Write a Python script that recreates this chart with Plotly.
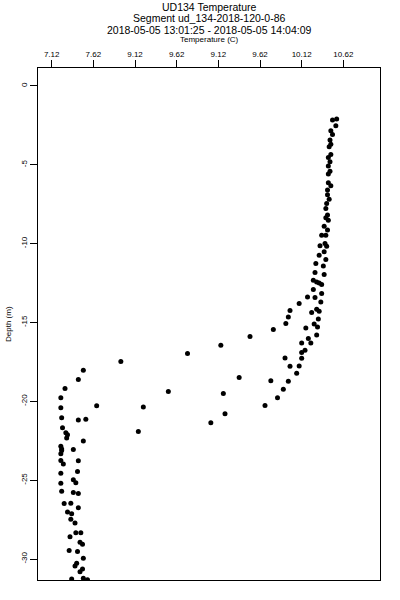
import plotly.graph_objects as go

temperature = [
    10.54, 10.49, 10.53, 10.47, 10.49, 10.46, 10.47, 10.45, 10.47, 10.44,
    10.46, 10.44, 10.46, 10.44, 10.44, 10.47, 10.43, 10.43, 10.45, 10.42,
    10.41, 10.43, 10.41, 10.44, 10.39, 10.43, 10.36, 10.41, 10.40, 10.34,
    10.42, 10.39, 10.33, 10.41, 10.29, 10.38, 10.28, 10.39, 10.26, 10.30,
    10.33, 10.36, 10.26, 10.19, 10.28, 10.36,
    10.09, 10.35, 9.98, 10.24, 10.30, 10.33, 9.96, 10.32, 9.93, 10.27,
    10.31, 10.17, 9.78, 9.50, 10.30, 9.15, 10.20, 10.12, 10.23, 10.16,
    10.12, 9.92, 10.12, 9.98, 10.09, 10.06, 9.37, 9.75, 9.96, 9.18,
    9.90, 9.83, 9.68, 9.20,
    8.75, 7.95, 7.50, 7.44, 7.28, 7.23, 8.52, 7.23, 7.66, 8.22,
    7.24, 7.44, 7.53, 9.03, 7.25, 8.16, 7.29, 7.31, 7.30, 7.50,
    7.23, 7.38, 7.24,
    7.24, 7.23, 7.23, 7.26, 7.44, 7.23, 7.43, 7.38, 7.41, 7.23,
    7.24, 7.38, 7.44, 7.27, 7.35, 7.44, 7.31, 7.36, 7.35, 7.40,
    7.41, 7.47, 7.34, 7.46, 7.49, 7.33, 7.43, 7.50, 7.42, 7.40,
    7.49, 7.46, 7.36, 7.50, 7.55,
]
depth = [
    -2.10, -2.16, -2.52, -2.84, -3.07, -3.43, -3.70, -3.85, -4.34, -4.53,
    -4.81, -5.08, -5.40, -5.59, -6.14, -6.33, -6.60, -6.90, -7.19, -7.45,
    -7.77, -8.19, -8.36, -8.51, -8.89, -9.14, -9.46, -9.46, -9.99, -10.14,
    -10.16, -10.52, -10.73, -11.00, -11.26, -11.41, -11.83, -11.96, -12.32, -12.43,
    -12.49, -12.59, -12.91, -13.38, -13.42, -13.16,
    -13.80, -13.70, -14.24, -14.37, -14.16, -14.29, -14.65, -14.78, -15.07, -15.09,
    -15.28, -15.35, -15.45, -15.88, -15.79, -16.45, -16.02, -16.30, -16.30, -16.76,
    -16.91, -17.25, -17.27, -17.78, -17.76, -18.22, -18.48, -18.69, -18.73, -19.51,
    -19.24, -19.77, -20.26, -20.78,
    -16.97, -17.48, -18.03, -18.61, -19.18, -19.77, -19.37, -20.40, -20.28, -20.36,
    -21.04, -21.19, -21.13, -21.36, -21.67, -21.91, -21.99, -22.12, -22.33, -22.52,
    -22.84, -23.05, -23.03,
    -23.11, -23.32, -23.75, -23.98, -23.77, -24.56, -24.45, -24.97, -25.17, -25.19,
    -25.70, -25.78, -25.84, -26.48, -26.46, -26.75, -27.01, -27.13, -27.48, -27.71,
    -28.34, -28.34, -28.58, -28.94, -29.06, -29.46, -29.53, -29.95, -30.27, -30.44,
    -30.63, -30.80, -31.26, -31.22, -31.32,
]

x_tickvals = [7.12, 7.62, 8.12, 8.62, 9.12, 9.62, 10.12, 10.62]
x_ticktext = ["7.12", "7.62", "9.12", "9.62", "9.12", "9.62", "10.12", "10.62"]
y_tickvals = [0, -5, -10, -15, -20, -25, -30]
y_ticktext = ["0", "-5", "-10", "-15", "-20", "-25", "-30"]

title_lines = [
    "UD134 Temperature",
    "Segment ud_134-2018-120-0-86",
    "2018-05-05 13:01:25 - 2018-05-05 14:04:09",
]

FONT = "Liberation Sans, Arial, sans-serif"

fig = go.Figure()
fig.add_trace(go.Scatter(
    x=temperature, y=depth, mode="markers",
    marker=dict(color="black", size=5, line=dict(width=0)),
    showlegend=False, hoverinfo="x+y",
))

L, R, T, B = 38, 20, 68, 20
H = 600
plot_h = H - T - B

annotations = []
for line, ypix in zip(title_lines, [7, 18, 30]):
    annotations.append(dict(
        text=line, x=0.5, xref="paper", y=(H - B - ypix) / plot_h, yref="paper",
        xanchor="center", yanchor="middle", showarrow=False,
        font=dict(family=FONT, size=10.5, color="black"),
    ))
annotations.append(dict(
    text="Temperature (C)", x=0.5, xref="paper", y=(H - B - 39) / plot_h, yref="paper",
    xanchor="center", yanchor="middle", showarrow=False,
    font=dict(family=FONT, size=8, color="black"),
))
annotations.append(dict(
    text="Depth (m)", x=-30 / 342, xref="paper", y=0.5, yref="paper",
    xanchor="center", yanchor="middle", showarrow=False, textangle=-90,
    font=dict(family=FONT, size=8, color="black"),
))

fig.update_layout(
    width=400, height=600,
    margin=dict(l=L, r=R, t=T, b=B),
    paper_bgcolor="white", plot_bgcolor="white",
    font=dict(family=FONT, color="black", size=8),
    annotations=annotations,
    xaxis=dict(
        side="top", range=[6.956, 11.06], automargin=False,
        tickvals=x_tickvals, ticktext=x_ticktext,
        ticks="outside", ticklen=7, tickcolor="black", tickwidth=1,
        showline=True, linecolor="black", linewidth=1, mirror=True,
        showgrid=False, zeroline=False,
        tickfont=dict(size=8, family=FONT, color="black"),
    ),
    yaxis=dict(
        range=[-31.33, 1.14], automargin=False,
        tickvals=y_tickvals, ticktext=y_ticktext, tickangle=-90,
        ticks="outside", ticklen=7, tickcolor="black", tickwidth=1,
        showline=True, linecolor="black", linewidth=1, mirror=True,
        showgrid=False, zeroline=False,
        tickfont=dict(size=8, family=FONT, color="black"),
    ),
)

fig.write_html(
    "out.html",
    config={"displayModeBar": False},
    post_script="document.body.style.margin='0';document.body.style.padding='0';",
)
